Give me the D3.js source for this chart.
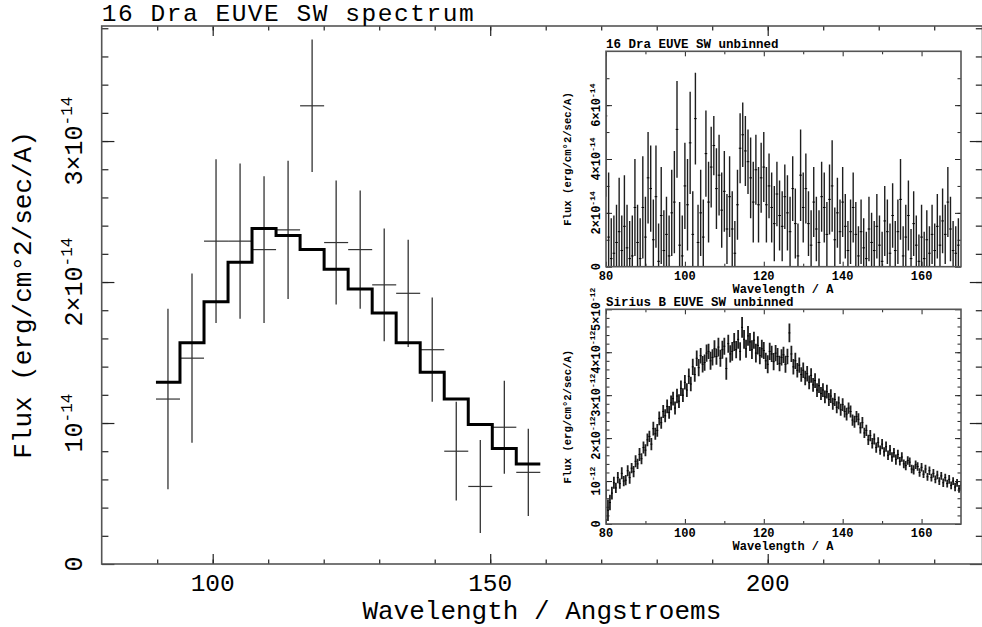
<!DOCTYPE html>
<html>
<head>
<meta charset="utf-8">
<script src="https://cdn.jsdelivr.net/npm/d3@7"></script>
<style>
body { margin: 0; background: #fff; }
svg { display: block; }
text { font-family: "Liberation Mono", "DejaVu Sans Mono", monospace; fill: #000; }
.small { font-weight: bold; }
</style>
</head>
<body>
<svg id="chart" width="982" height="627"></svg>
<script>
// binned 16 Dra spectrum, flux in units of 1e-14 erg/cm2/sec/A
var binCentres = [91.94, 96.27, 100.60, 104.93, 109.25, 113.58, 117.91, 122.24,
	126.57, 130.90, 135.22, 139.55, 143.88, 148.21, 152.54, 156.86];
var binWidth = 4.33;
var fluxBinned = [1.17, 1.46, 2.29, 2.29, 2.23, 2.37, 3.25, 2.28,
	2.23, 1.98, 1.92, 1.52, 0.80, 0.55, 0.97, 0.65];
var errBinned = [0.64, 0.60, 0.58, 0.55, 0.52, 0.49, 0.47, 0.44,
	0.42, 0.40, 0.38, 0.37, 0.35, 0.33, 0.33, 0.31];
var modelBinned = [1.29, 1.57, 1.86, 2.14, 2.38, 2.33, 2.23, 2.09,
	1.95, 1.78, 1.57, 1.36, 1.17, 0.99, 0.82, 0.71];

// 16 Dra unbinned, 1e-14 units, one point every 2/3 A from 80 A
var draStart = 80, draStep = 2 / 3;
var fluxDra = [
	5.6, 1.1, 0.3, 0.5, 0.9, 1.3, 0.6, 1.5, 0.7, 0.3, 0.4, 2.2, 0.9, 0.3, 2.2,
	1.1, 3.3, 2.9, 1.0, 2.6, 0.2, 1.9, 0.6, 1.2, 0.4, 2.0, 2.4, 5.1, 0.8, 0.4,
	3.0, 2.3, 4.6, 1.2, 5.5, 0.9, 2.0, 1.1, 4.2, 2.4, 3.7, 4.5, 2.9, 3.4, 2.1,
	2.8, 1.4, 2.6, 1.4, 0.5, 2.3, 4.4, 4.9, 4.3, 3.9, 3.3, 2.4, 3.6, 2.3, 3.3,
	3.7, 2.3, 3.0, 2.2, 1.6, 2.7, 1.9, 1.5, 2.6, 2.0, 1.3, 2.9, 1.6, 0.4, 3.4,
	2.2, 2.9, 1.6, 0.8, 2.4, 1.4, 0.9, 2.6, 2.2, 1.2, 2.5, 3.0, 1.0, 2.0, 1.3,
	2.4, 1.5, 0.6, 1.3, 2.2, 1.2, 0.4, 1.3, 0.7, 0.3, 1.4, 0.9, 0.6, 1.5, 0.8,
	0.2, 1.7, 1.3, 0.5, 1.9, 0.6, 1.3, 2.5, 0.4, 1.1, 1.9, 0.3, 1.6, 0.8, 0.2,
	1.1, 0.3, 1.0, 0.5, 1.2, 0.6, 1.5, 0.8, 1.7, 1.2, 2.4, 1.4, 0.6, 0.5, 0.8
];
var errDra = [
	3.0, 2.4, 1.5, 1.4, 1.4, 2.0, 1.3, 1.9, 1.6, 1.4, 1.5, 1.8, 1.4, 1.5, 1.9,
	1.5, 1.7, 1.6, 1.5, 1.9, 1.4, 1.8, 1.5, 1.4, 1.5, 1.6, 1.9, 1.8, 1.6, 1.5,
	1.6, 1.7, 1.9, 1.6, 1.7, 1.4, 1.6, 1.4, 1.6, 1.5, 1.5, 1.1, 1.5, 1.5, 1.4,
	1.5, 1.3, 1.5, 1.4, 1.2, 1.3, 1.3, 1.2, 1.3, 1.2, 1.5, 1.5, 1.3, 1.4, 1.3,
	1.3, 1.4, 1.2, 1.3, 1.4, 1.2, 1.3, 1.3, 1.2, 1.4, 1.3, 1.2, 1.3, 1.2, 1.7,
	1.3, 1.3, 1.2, 1.3, 1.3, 1.2, 1.2, 1.3, 1.3, 1.2, 1.3, 1.7, 1.2, 1.3, 1.2,
	1.3, 1.2, 1.1, 1.2, 1.3, 1.2, 1.1, 1.2, 1.1, 1.0, 1.2, 1.1, 1.1, 1.2, 1.1,
	1.1, 1.3, 1.2, 1.1, 1.2, 1.1, 1.2, 1.5, 1.1, 1.2, 1.3, 1.1, 1.2, 1.1, 1.0,
	1.2, 1.0, 1.1, 1.0, 1.1, 1.0, 1.2, 1.1, 1.2, 1.1, 1.3, 1.2, 1.1, 1.0, 1.0
];

// Sirius B unbinned, 1e-12 units, one point every 0.5 A from 80 A
var siriusStart = 80, siriusStep = 0.5;
var fluxSirius = [
	0.78, 0.32, 0.50, 0.72, 0.96, 0.84, 1.08, 0.94, 1.18, 1.00,
	1.02, 1.24, 1.08, 1.30, 1.22, 1.46, 1.40, 1.62, 1.52, 1.78,
	1.72, 1.96, 2.04, 1.86, 2.22, 2.10, 2.18, 2.46, 2.36, 2.62,
	2.52, 2.74, 2.60, 2.82, 2.92, 2.70, 2.98, 2.86, 3.16, 3.00,
	3.30, 3.12, 3.44, 3.26, 3.66, 3.48, 3.86, 3.64, 3.92, 3.72,
	3.76, 3.98, 4.02, 3.80, 3.88, 4.08, 3.90, 4.12, 3.86, 4.06,
	4.14, 3.62, 4.20, 3.96, 4.02, 4.24, 4.06, 4.30, 4.02, 4.58,
	4.30, 4.08, 4.38, 4.24, 4.06, 4.28, 3.98, 4.16, 3.92, 4.08,
	4.04, 3.80, 3.72, 4.02, 3.96, 3.78, 3.98, 3.90, 3.74, 3.88,
	3.94, 3.72, 3.90, 4.45, 3.96, 3.66, 3.80, 3.58, 3.70, 3.48,
	3.58, 3.40, 3.50, 3.30, 3.46, 3.24, 3.34, 3.12, 3.22, 3.04,
	3.12, 2.96, 3.08, 2.90, 2.98, 2.80, 2.90, 2.72, 2.82, 2.66,
	2.78, 2.62, 2.56, 2.70, 2.62, 2.42, 2.38, 2.50, 2.44, 2.24,
	2.36, 2.12, 2.18, 1.96, 2.06, 1.88, 1.98, 1.78, 1.90, 1.72,
	1.86, 1.68, 1.80, 1.60, 1.72, 1.56, 1.66, 1.50, 1.62, 1.46,
	1.56, 1.40, 1.36, 1.48, 1.44, 1.28, 1.26, 1.38, 1.34, 1.20,
	1.32, 1.16, 1.28, 1.10, 1.24, 1.08, 1.18, 1.04, 1.14, 1.00,
	1.12, 0.96, 1.08, 0.94, 1.04, 0.90, 1.00, 0.86, 0.96, 0.82,
	0.90
];
var errSirius = [
	0.20, 0.25, 0.18, 0.15, 0.14, 0.12, 0.13, 0.12, 0.14, 0.12,
	0.12, 0.13, 0.14, 0.12, 0.13, 0.14, 0.12, 0.15, 0.13, 0.14,
	0.14, 0.15, 0.13, 0.14, 0.16, 0.14, 0.15, 0.16, 0.14, 0.15,
	0.15, 0.16, 0.15, 0.17, 0.16, 0.15, 0.17, 0.16, 0.18, 0.16,
	0.17, 0.16, 0.18, 0.17, 0.19, 0.17, 0.18, 0.20, 0.18, 0.19,
	0.19, 0.20, 0.18, 0.21, 0.19, 0.20, 0.19, 0.22, 0.20, 0.21,
	0.20, 0.26, 0.21, 0.20, 0.22, 0.21, 0.20, 0.22, 0.21, 0.24,
	0.22, 0.21, 0.23, 0.21, 0.22, 0.20, 0.22, 0.21, 0.20, 0.21,
	0.20, 0.19, 0.21, 0.20, 0.19, 0.20, 0.19, 0.20, 0.18, 0.19,
	0.19, 0.20, 0.18, 0.22, 0.19, 0.18, 0.19, 0.17, 0.18, 0.17,
	0.18, 0.17, 0.18, 0.16, 0.17, 0.16, 0.17, 0.16, 0.17, 0.15,
	0.16, 0.15, 0.16, 0.15, 0.16, 0.14, 0.15, 0.14, 0.15, 0.14,
	0.15, 0.14, 0.15, 0.13, 0.14, 0.13, 0.14, 0.13, 0.14, 0.13,
	0.13, 0.12, 0.13, 0.12, 0.13, 0.12, 0.13, 0.12, 0.12, 0.11,
	0.12, 0.11, 0.12, 0.11, 0.12, 0.11, 0.11, 0.12, 0.11, 0.10,
	0.11, 0.10, 0.11, 0.10, 0.11, 0.10, 0.11, 0.10, 0.10, 0.10,
	0.10, 0.09, 0.10, 0.09, 0.10, 0.09, 0.10, 0.09, 0.10, 0.09,
	0.09, 0.10, 0.09, 0.09, 0.10, 0.09, 0.09, 0.10, 0.09, 0.09,
	0.10
];

// ticks and labels
var mainXMajor = [100, 150, 200];
var mainYMajor = [0, 1, 2, 3];
var insetXMajor = [80, 100, 120, 140, 160];
var draYMajor = [0, 2, 4, 6];
var siriusYMajor = [0, 1, 2, 3, 4, 5];

var svg = d3.select("#chart");

function drawTicks(g, x, y, o) {
	var xr = x.range(), yr = y.range();
	function one(axis, tx, ty, vals, len) {
		g.append("g")
			.attr("transform", "translate(" + tx + "," + ty + ")")
			.call(axis.tickValues(vals).tickSize(-len).tickFormat(""))
			.call(function(s) {
				s.select(".domain").remove();
				s.selectAll("line").attr("stroke", "#222").attr("stroke-width", o.tw);
			});
	}
	one(d3.axisBottom(x), 0, yr[0], o.xMinor, o.xMinLen);
	one(d3.axisBottom(x), 0, yr[0], o.xMajor, o.xMajLen);
	one(d3.axisTop(x), 0, yr[1], o.xMinor, o.xMinLen);
	one(d3.axisTop(x), 0, yr[1], o.xMajor, o.xMajLen);
	one(d3.axisLeft(y), xr[0], 0, o.yMinor, o.yMinLen);
	one(d3.axisLeft(y), xr[0], 0, o.yMajor, o.yMajLen);
	one(d3.axisRight(y), xr[1], 0, o.yMinor, o.yMinLen);
	one(d3.axisRight(y), xr[1], 0, o.yMajor, o.yMajLen);

	g.append("rect")
		.attr("x", xr[0]).attr("y", yr[1])
		.attr("width", xr[1] - xr[0]).attr("height", yr[0] - yr[1])
		.attr("fill", "none").attr("stroke", "#555").attr("stroke-width", o.fw);
}

// rotated power-of-ten label, reads bottom to top like PGPLOT
function powLabel(g, bx, cy, mult, exp, fs, supFs, supDy, cls) {
	var t = g.append("text")
		.attr("class", cls || null)
		.attr("transform", "translate(" + bx + "," + cy + ") rotate(-90)")
		.attr("text-anchor", "middle")
		.style("font-size", fs + "px");
	if (mult === 0) {
		t.text("0");
		return;
	}
	t.append("tspan").text(mult === 1 ? "10" : mult + "\u00d710");
	t.append("tspan").attr("dy", -supDy).style("font-size", supFs + "px").text("-" + exp);
}

// ---------- main plot ----------
var x = d3.scaleLinear().domain([80, 238.7]).range([101.7, 982.5]);
var y = d3.scaleLinear().domain([0, 3.816]).range([564, 26]);
var mainG = svg.append("g");

drawTicks(mainG, x, y, {
	xMajor: mainXMajor, xMinor: d3.range(90, 240, 10), xMajLen: 10, xMinLen: 4.5,
	yMajor: mainYMajor, yMinor: d3.range(0.2, 3.81, 0.2), yMajLen: 12.7, yMinLen: 6.7,
	tw: 1.2, fw: 1.6
});

mainG.selectAll("text.xlab").data(mainXMajor).enter().append("text")
	.attr("class", "xlab")
	.attr("x", function(d) { return x(d); })
	.attr("y", 591)
	.attr("text-anchor", "middle")
	.style("font-size", "24.5px")
	.text(function(d) { return d; });

mainYMajor.forEach(function(d) {
	powLabel(mainG, 82, y(d), d, 14, 25, 16, 10);
});

mainG.append("text")
	.attr("x", 101.7).attr("y", 20.5)
	.attr("textLength", 372)
	.style("font-size", "24.5px")
	.text("16 Dra EUVE SW spectrum");

mainG.append("text")
	.attr("x", (101.7 + 982) / 2).attr("y", 619)
	.attr("text-anchor", "middle")
	.style("font-size", "26px")
	.text("Wavelength / Angstroems");

mainG.append("text")
	.attr("transform", "translate(31," + (26 + 564) / 2 + ") rotate(-90)")
	.attr("text-anchor", "middle")
	.style("font-size", "26px")
	.text("Flux (erg/cm\u00b02/sec/A)");

// data crosses
var pts = binCentres.map(function(c, i) {
	return { w: c, v: fluxBinned[i], e: errBinned[i], m: modelBinned[i] };
});

mainG.selectAll("line.err").data(pts).enter().append("line")
	.attr("class", "err")
	.attr("x1", function(d) { return x(d.w); })
	.attr("x2", function(d) { return x(d.w); })
	.attr("y1", function(d) { return y(d.v - d.e); })
	.attr("y2", function(d) { return y(d.v + d.e); })
	.attr("stroke", "#222").attr("stroke-width", 1.2);

mainG.selectAll("line.bin").data(pts).enter().append("line")
	.attr("class", "bin")
	.attr("x1", function(d) { return x(d.w - binWidth / 2); })
	.attr("x2", function(d) { return x(d.w + binWidth / 2); })
	.attr("y1", function(d) { return y(d.v); })
	.attr("y2", function(d) { return y(d.v); })
	.attr("stroke", "#333").attr("stroke-width", 1.2);

var stepPts = pts.map(function(d) { return [d.w - binWidth / 2, d.m]; });
stepPts.push([pts[pts.length - 1].w + binWidth / 2, pts[pts.length - 1].m]);

mainG.append("path")
	.datum(stepPts)
	.attr("d", d3.line()
		.x(function(d) { return x(d[0]); })
		.y(function(d) { return y(d[1]); })
		.curve(d3.curveStepAfter))
	.attr("fill", "none")
	.attr("stroke", "#000")
	.attr("stroke-width", 3);

// ---------- insets ----------
function drawInset(id, top, bottom, yMax, yMajor, yMinorStep, exp, start, step, vals, errs, title, sw) {
	var ix = d3.scaleLinear().domain([80, 170]).range([606, 961]);
	var iy = d3.scaleLinear().domain([0, yMax]).range([bottom, top]);
	var g = svg.append("g");

	g.append("rect").attr("x", 606).attr("y", top)
		.attr("width", 961 - 606).attr("height", bottom - top).attr("fill", "#fff");

	svg.append("clipPath").attr("id", id)
		.append("rect").attr("x", 606).attr("y", top)
		.attr("width", 961 - 606).attr("height", bottom - top);

	var data = vals.map(function(v, i) {
		return { w: start + i * step, v: v, e: errs[i] };
	});
	var marks = g.append("g").attr("clip-path", "url(#" + id + ")");
	marks.selectAll("line.err").data(data).enter().append("line")
		.attr("class", "err")
		.attr("x1", function(d) { return ix(d.w); })
		.attr("x2", function(d) { return ix(d.w); })
		.attr("y1", function(d) { return iy(d.v - d.e); })
		.attr("y2", function(d) { return iy(d.v + d.e); })
		.attr("stroke", "#1e1e1e").attr("stroke-width", sw);
	marks.selectAll("line.bin").data(data).enter().append("line")
		.attr("class", "bin")
		.attr("x1", function(d) { return ix(d.w - step / 2); })
		.attr("x2", function(d) { return ix(d.w + step / 2); })
		.attr("y1", function(d) { return iy(d.v); })
		.attr("y2", function(d) { return iy(d.v); })
		.attr("stroke", "#000").attr("stroke-width", 1);

	drawTicks(g, ix, iy, {
		xMajor: insetXMajor, xMinor: d3.range(90, 170, 20), xMajLen: 5, xMinLen: 3,
		yMajor: yMajor, yMinor: d3.range(yMinorStep, yMax, yMinorStep), yMajLen: 6, yMinLen: 3.5,
		tw: 1, fw: 1.6
	});

	g.selectAll("text.xlab").data(insetXMajor).enter().append("text")
		.attr("class", "xlab small")
		.attr("x", function(d) { return ix(d); })
		.attr("y", bottom + 13.2)
		.attr("text-anchor", "middle")
		.style("font-size", "12px")
		.text(function(d) { return d; });

	yMajor.forEach(function(d) {
		powLabel(g, 600, iy(d), d, exp, 12, 8, 5, "small");
	});

	g.append("text").attr("class", "small")
		.attr("x", 606).attr("y", top - 3.5)
		.style("font-size", "12.5px")
		.text(title);

	g.append("text").attr("class", "small")
		.attr("x", 783).attr("y", bottom + 26)
		.attr("text-anchor", "middle")
		.style("font-size", "12px")
		.text("Wavelength / A");

	g.append("text").attr("class", "small")
		.attr("transform", "translate(571," + (top + bottom) / 2 + ") rotate(-90)")
		.attr("text-anchor", "middle")
		.style("font-size", "10.6px")
		.text("Flux (erg/cm\u00b02/sec/A)");
}

drawInset("clipDra", 51.3, 266.7, 8, draYMajor, 1, 14,
	draStart, draStep, fluxDra, errDra, "16 Dra EUVE SW unbinned", 1.4);
drawInset("clipSirius", 309.3, 524, 5, siriusYMajor, 0.2, 12,
	siriusStart, siriusStep, fluxSirius, errSirius, "Sirius B EUVE SW unbinned", 1.8);
</script>
</body>
</html>
